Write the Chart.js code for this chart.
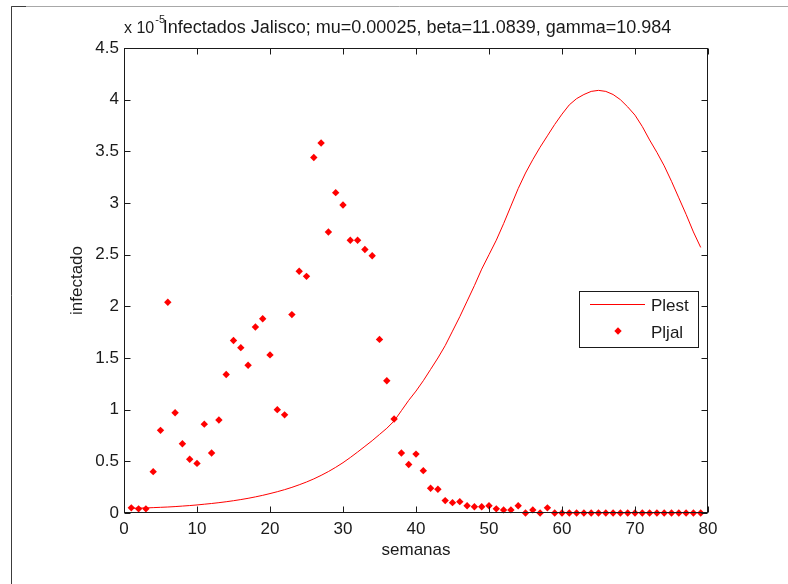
<!DOCTYPE html>
<html>
<head>
<meta charset="utf-8">
<script src="https://cdn.jsdelivr.net/npm/chart.js@4.4.1/dist/chart.umd.min.js"></script>
<style>
html,body{margin:0;padding:0;background:#fff;}
#wrap{width:788px;height:584px;position:relative;}
</style>
</head>
<body>
<div id="wrap"><canvas id="c" width="788" height="584"></canvas></div>
<script>
// ---- data (values in units of 1e-5) ----
const weeks = [1,2,3,4,5,6,7,8,9,10,11,12,13,14,15,16,17,18,19,20,21,22,23,24,25,26,27,28,29,30,31,32,33,34,35,36,37,38,39,40,41,42,43,44,45,46,47,48,49,50,51,52,53,54,55,56,57,58,59,60,61,62,63,64,65,66,67,68,69,70,71,72,73,74,75,76,77,78,79];
const plest = [0.045,0.047,0.049,0.052,0.055,0.058,0.062,0.067,0.072,0.078,0.085,0.092,0.100,0.109,0.119,0.130,0.142,0.156,0.171,0.188,0.206,0.226,0.248,0.273,0.300,0.330,0.364,0.401,0.442,0.487,0.537,0.590,0.645,0.700,0.760,0.820,0.890,0.990,1.090,1.180,1.280,1.390,1.500,1.620,1.760,1.900,2.050,2.200,2.360,2.500,2.640,2.800,2.970,3.140,3.290,3.420,3.540,3.650,3.760,3.860,3.950,4.010,4.050,4.080,4.090,4.080,4.050,4.000,3.930,3.850,3.740,3.610,3.490,3.360,3.210,3.050,2.890,2.720,2.570];
const pljal = [0.05,0.04,0.04,0.40,0.80,2.04,0.97,0.67,0.52,0.48,0.86,0.58,0.90,1.34,1.67,1.60,1.43,1.80,1.88,1.53,1.00,0.95,1.92,2.34,2.29,3.44,3.58,2.72,3.10,2.98,2.64,2.64,2.55,2.49,1.68,1.28,0.91,0.58,0.47,0.57,0.41,0.24,0.23,0.12,0.10,0.11,0.07,0.06,0.06,0.07,0.04,0.03,0.03,0.07,0.00,0.03,0.00,0.05,0,0,0,0,0,0,0,0,0,0,0,0,0,0,0,0,0,0,0,0,0];
const xTickLabels = ['0','10','20','30','40','50','60','70','80'];
const yTickLabels = ['0','0.5','1','1.5','2','2.5','3','3.5','4','4.5'];
const seriesNames = ['Plest','Pljal'];
const titleText = 'Infectados Jalisco; mu=0.00025, beta=11.0839, gamma=10.984';
const exponentBase = 'x 10';
const exponentPower = '-5';
const xAxisTitle = 'semanas';
const yAxisTitle = 'infectado';

const FONT = '"Liberation Sans", Arial, sans-serif';
const RED = '#ff0000';
const INK = '#1a1a1a';

const matlabLook = {
  id: 'matlabLook',
  beforeDraw(chart) {
    const ctx = chart.ctx;
    ctx.save();
    ctx.fillStyle = '#ffffff';
    ctx.fillRect(0, 0, chart.width, chart.height);
    ctx.lineWidth = 1;
    ctx.strokeStyle = '#a8a8a8';
    ctx.beginPath(); ctx.moveTo(11, 6.5); ctx.lineTo(chart.width, 6.5); ctx.stroke();
    ctx.strokeStyle = '#3c3c3c';
    ctx.beginPath(); ctx.moveTo(11.5, chart.height); ctx.lineTo(11.5, 6.5); ctx.lineTo(26, 6.5); ctx.stroke();
    ctx.restore();
  },
  afterDatasetsDraw(chart) {
    const ctx = chart.ctx;
    const a = chart.chartArea;
    const xs = chart.scales.x, ys = chart.scales.y;
    const L = Math.round(a.left) + 0.5, R = Math.round(a.right) - 0.5;
    const T = Math.round(a.top) + 0.5, B = Math.round(a.bottom) - 0.5;
    ctx.save();
    ctx.strokeStyle = INK;
    ctx.lineWidth = 1;
    ctx.strokeRect(L, T, R - L, B - T);
    const tl = 6;
    ctx.beginPath();
    xs.ticks.forEach(t => {
      const px = Math.round(xs.getPixelForValue(t.value)) + 0.5;
      ctx.moveTo(px, B); ctx.lineTo(px, B - tl);
      ctx.moveTo(px, T); ctx.lineTo(px, T + tl);
    });
    ys.ticks.forEach(t => {
      const py = Math.round(ys.getPixelForValue(t.value)) + 0.5;
      ctx.moveTo(L, py); ctx.lineTo(L + tl, py);
      ctx.moveTo(R, py); ctx.lineTo(R - tl, py);
    });
    ctx.stroke();

    // exponent label + title
    ctx.fillStyle = INK;
    ctx.textBaseline = 'alphabetic';
    ctx.textAlign = 'left';
    ctx.font = '16px ' + FONT;
    ctx.fillText(exponentBase, a.left, 33);
    const wb = ctx.measureText(exponentBase).width;
    ctx.font = '11px ' + FONT;
    ctx.fillText(exponentPower, a.left + wb + 1, 23);
    ctx.font = '18px ' + FONT;
    ctx.textAlign = 'center';
    ctx.fillText(titleText, (a.left + a.right) / 2 + 1, 33);

    // legend
    const ds = chart.data.datasets;
    const bx = 579.5, by = 291.5, bw = 119, bh = 56;
    ctx.fillStyle = '#ffffff';
    ctx.fillRect(bx, by, bw, bh);
    ctx.strokeStyle = INK;
    ctx.strokeRect(bx, by, bw, bh);
    ctx.strokeStyle = ds[0].borderColor;
    ctx.lineWidth = 1;
    ctx.beginPath(); ctx.moveTo(590, 304.5); ctx.lineTo(645, 304.5); ctx.stroke();
    ctx.fillStyle = ds[1].backgroundColor;
    ctx.beginPath();
    ctx.moveTo(618, 327.3); ctx.lineTo(621.7, 331); ctx.lineTo(618, 334.7); ctx.lineTo(614.3, 331); ctx.closePath();
    ctx.fill();
    ctx.fillStyle = INK;
    ctx.textAlign = 'left';
    ctx.textBaseline = 'middle';
    ctx.font = '17px ' + FONT;
    ctx.fillText(ds[0].label, 651, 306);
    ctx.fillText(ds[1].label, 651, 333);
    ctx.restore();
  }
};

new Chart(document.getElementById('c'), {
  data: {
    datasets: [
      {
        type: 'line',
        label: seriesNames[0],
        data: weeks.map((w, i) => ({x: w, y: plest[i]})),
        borderColor: RED,
        backgroundColor: RED,
        borderWidth: 1,
        pointRadius: 0,
        tension: 0,
        fill: false
      },
      {
        type: 'scatter',
        label: seriesNames[1],
        data: weeks.map((w, i) => ({x: w, y: pljal[i]})),
        backgroundColor: RED,
        borderColor: RED,
        borderWidth: 0,
        pointStyle: 'rectRot',
        pointRadius: 3.7,
        clip: false
      }
    ]
  },
  options: {
    responsive: false,
    devicePixelRatio: 1,
    animation: false,
    layout: {padding: {top: 48, right: 80, bottom: 0, left: 0}},
    plugins: {legend: {display: false}, title: {display: false}, tooltip: {enabled: false}},
    scales: {
      x: {
        type: 'linear', min: 0, max: 80,
        grid: {display: false, drawTicks: false, tickLength: 0},
        border: {display: false},
        ticks: {stepSize: 10, padding: 6, color: INK, font: {family: FONT, size: 17},
          maxRotation: 0, callback: (v, i) => xTickLabels[i]},
        title: {display: true, text: xAxisTitle, color: INK, font: {family: FONT, size: 17}, padding: {top: 0, bottom: 23}},
        afterFit: s => { s.height = 71; }
      },
      y: {
        type: 'linear', min: 0, max: 4.5,
        grid: {display: false, drawTicks: false, tickLength: 0},
        border: {display: false},
        ticks: {stepSize: 0.5, padding: 5, color: INK, font: {family: FONT, size: 17},
          callback: (v, i) => yTickLabels[i]},
        title: {display: true, text: yAxisTitle, color: INK, font: {family: FONT, size: 17}, padding: {top: 67, bottom: 0}},
        afterFit: s => { s.width = 124; }
      }
    }
  },
  plugins: [matlabLook]
});
</script>
</body>
</html>
